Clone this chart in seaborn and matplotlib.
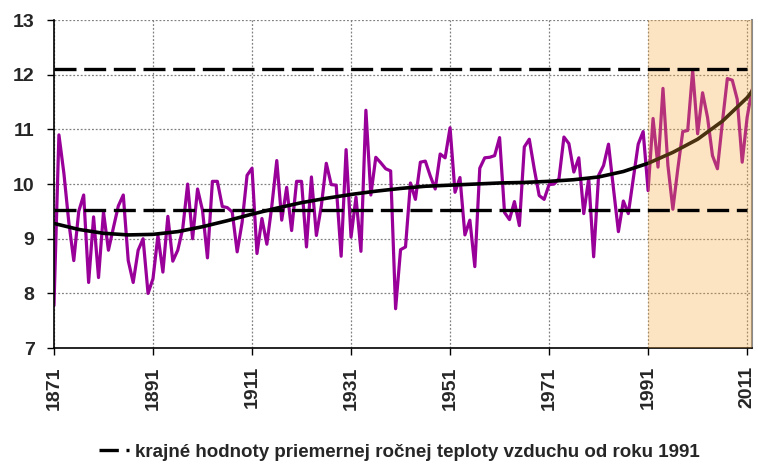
import matplotlib.pyplot as plt
import pandas as pd
import seaborn as sns
from matplotlib.lines import Line2D

years = list(range(1871, 2013))
temps = [
    7.78, 10.90, 10.20, 9.30, 8.60, 9.50, 9.80, 8.20, 9.40, 8.29,     # 1871-1880
    9.49, 8.79, 9.20, 9.60, 9.80, 8.60, 8.20, 8.79, 9.00, 8.00,       # 1881-1890
    8.27, 9.06, 8.39, 9.41, 8.59, 8.79, 9.18, 10.00, 9.00, 9.91,      # 1891-1900
    9.52, 8.65, 10.05, 10.05, 9.59, 9.57, 9.49, 8.76, 9.30, 10.16,    # 1901-1910
    10.29, 8.73, 9.37, 8.90, 9.60, 10.43, 9.34, 9.94, 9.15, 10.05,    # 1911-1920
    10.05, 8.85, 10.13, 9.06, 9.60, 10.38, 9.99, 9.98, 8.68, 10.63,   # 1921-1930
    9.03, 9.76, 8.77, 11.35, 9.80, 10.49, 10.39, 10.28, 10.24, 7.72,  # 1931-1940
    8.80, 8.85, 10.02, 9.72, 10.40, 10.42, 10.15, 9.91, 10.55, 10.48, # 1941-1950
    11.03, 9.85, 10.12, 9.07, 9.34, 8.49, 10.29, 10.48, 10.49, 10.52, # 1951-1960
    10.85, 9.48, 9.35, 9.68, 9.24, 10.68, 10.82, 10.28, 9.79, 9.72,   # 1961-1970
    9.99, 10.00, 10.10, 10.86, 10.74, 10.22, 10.48, 9.46, 10.10, 8.67,  # 1971-1980
    10.16, 10.34, 10.73, 9.92, 9.13, 9.69, 9.46, 10.10, 10.73, 10.96,   # 1981-1990
    9.88, 11.20, 10.31, 11.75, 10.34, 9.54, 10.28, 10.96, 10.98, 12.08, # 1991-2000
    10.92, 11.67, 11.22, 10.52, 10.28, 11.13, 11.93, 11.90, 11.55, 10.40, # 2001-2010
    11.22, 11.73,                                                       # 2011-2012
]

# polynomial trend
trend_years = [1871, 1876, 1881, 1886, 1891, 1896, 1901, 1906, 1911, 1916,
               1921, 1926, 1931, 1936, 1941, 1946, 1951, 1956, 1961, 1966,
               1971, 1976, 1981, 1986, 1991, 1996, 2001, 2006, 2011, 2012]
trend = [9.28, 9.17, 9.10, 9.07, 9.08, 9.13, 9.22, 9.33, 9.45, 9.56,
         9.66, 9.74, 9.81, 9.87, 9.92, 9.96, 9.98, 10.00, 10.02, 10.03,
         10.05, 10.08, 10.13, 10.23, 10.38, 10.58, 10.82, 11.15, 11.58, 11.70]

extreme_low = 9.52
extreme_high = 12.1
recent_start = 1991
legend_label = "krajné hodnoty priemernej ročnej teploty vzduchu od roku 1991"
xticks = list(range(1871, 2012, 20))
yticks = list(range(7, 14))

df = pd.DataFrame({"rok": years, "teplota": temps})
df_trend = pd.DataFrame({"rok": trend_years, "teplota": trend})

sns.set_style("white")
plt.rcParams["font.family"] = ["Liberation Sans", "DejaVu Sans"]
plt.rcParams["font.weight"] = "bold"

fig = plt.figure(figsize=(7.58, 4.66), dpi=100)
ax = fig.add_axes([0.0712, 0.253, 0.921, 0.704])

sns.lineplot(data=df, x="rok", y="teplota", ax=ax, color="#990099", lw=2.3, zorder=2)
sns.lineplot(data=df_trend, x="rok", y="teplota", ax=ax, color="black", lw=2.6, zorder=2.2)

ax.axvspan(recent_start, 2012, color="#F8A837", alpha=0.3, lw=0, zorder=3)

for val in (extreme_low, extreme_high):
    ax.hlines(val, 1871, 2011, colors="black", lw=2.4, linestyles=(0, (6.6, 2.3)), zorder=4)

ax.set_xlim(1871, 2012)
ax.set_ylim(7, 13)
ax.set_xticks(xticks)
ax.set_yticks(yticks)
ax.set_xlabel("")
ax.set_ylabel("")
ax.grid(True, color="#808080", lw=0.9, ls=(0, (1.5, 1.5)), zorder=0)
ax.set_axisbelow(True)

ax.tick_params(axis="both", which="major", direction="out", length=5, width=1,
               color="black", labelsize=14, bottom=True, left=True)
ax.tick_params(axis="y", pad=9)
ax.tick_params(axis="x", pad=8)
for lbl in ax.get_xticklabels():
    lbl.set_rotation(90)
    lbl.set_fontweight("bold")
for lbl in ax.get_yticklabels():
    lbl.set_fontweight("bold")

ax.spines["top"].set_visible(False)
ax.spines["right"].set_color("#8a8a8a")
ax.spines["right"].set_linewidth(1.5)
for side in ("left", "bottom"):
    ax.spines[side].set_color("black")
    ax.spines[side].set_linewidth(1.2)

handle = Line2D([], [], color="black", lw=2.4, ls=(0, (5.8, 2.3, 0.9, 10)))
fig.legend([handle], [legend_label], loc="lower center", bbox_to_anchor=(0.527, -0.025),
           frameon=False, handlelength=1.75, handletextpad=0.2,
           prop={"weight": "bold", "size": 13.5})

fig.savefig("out.png", dpi=100)
